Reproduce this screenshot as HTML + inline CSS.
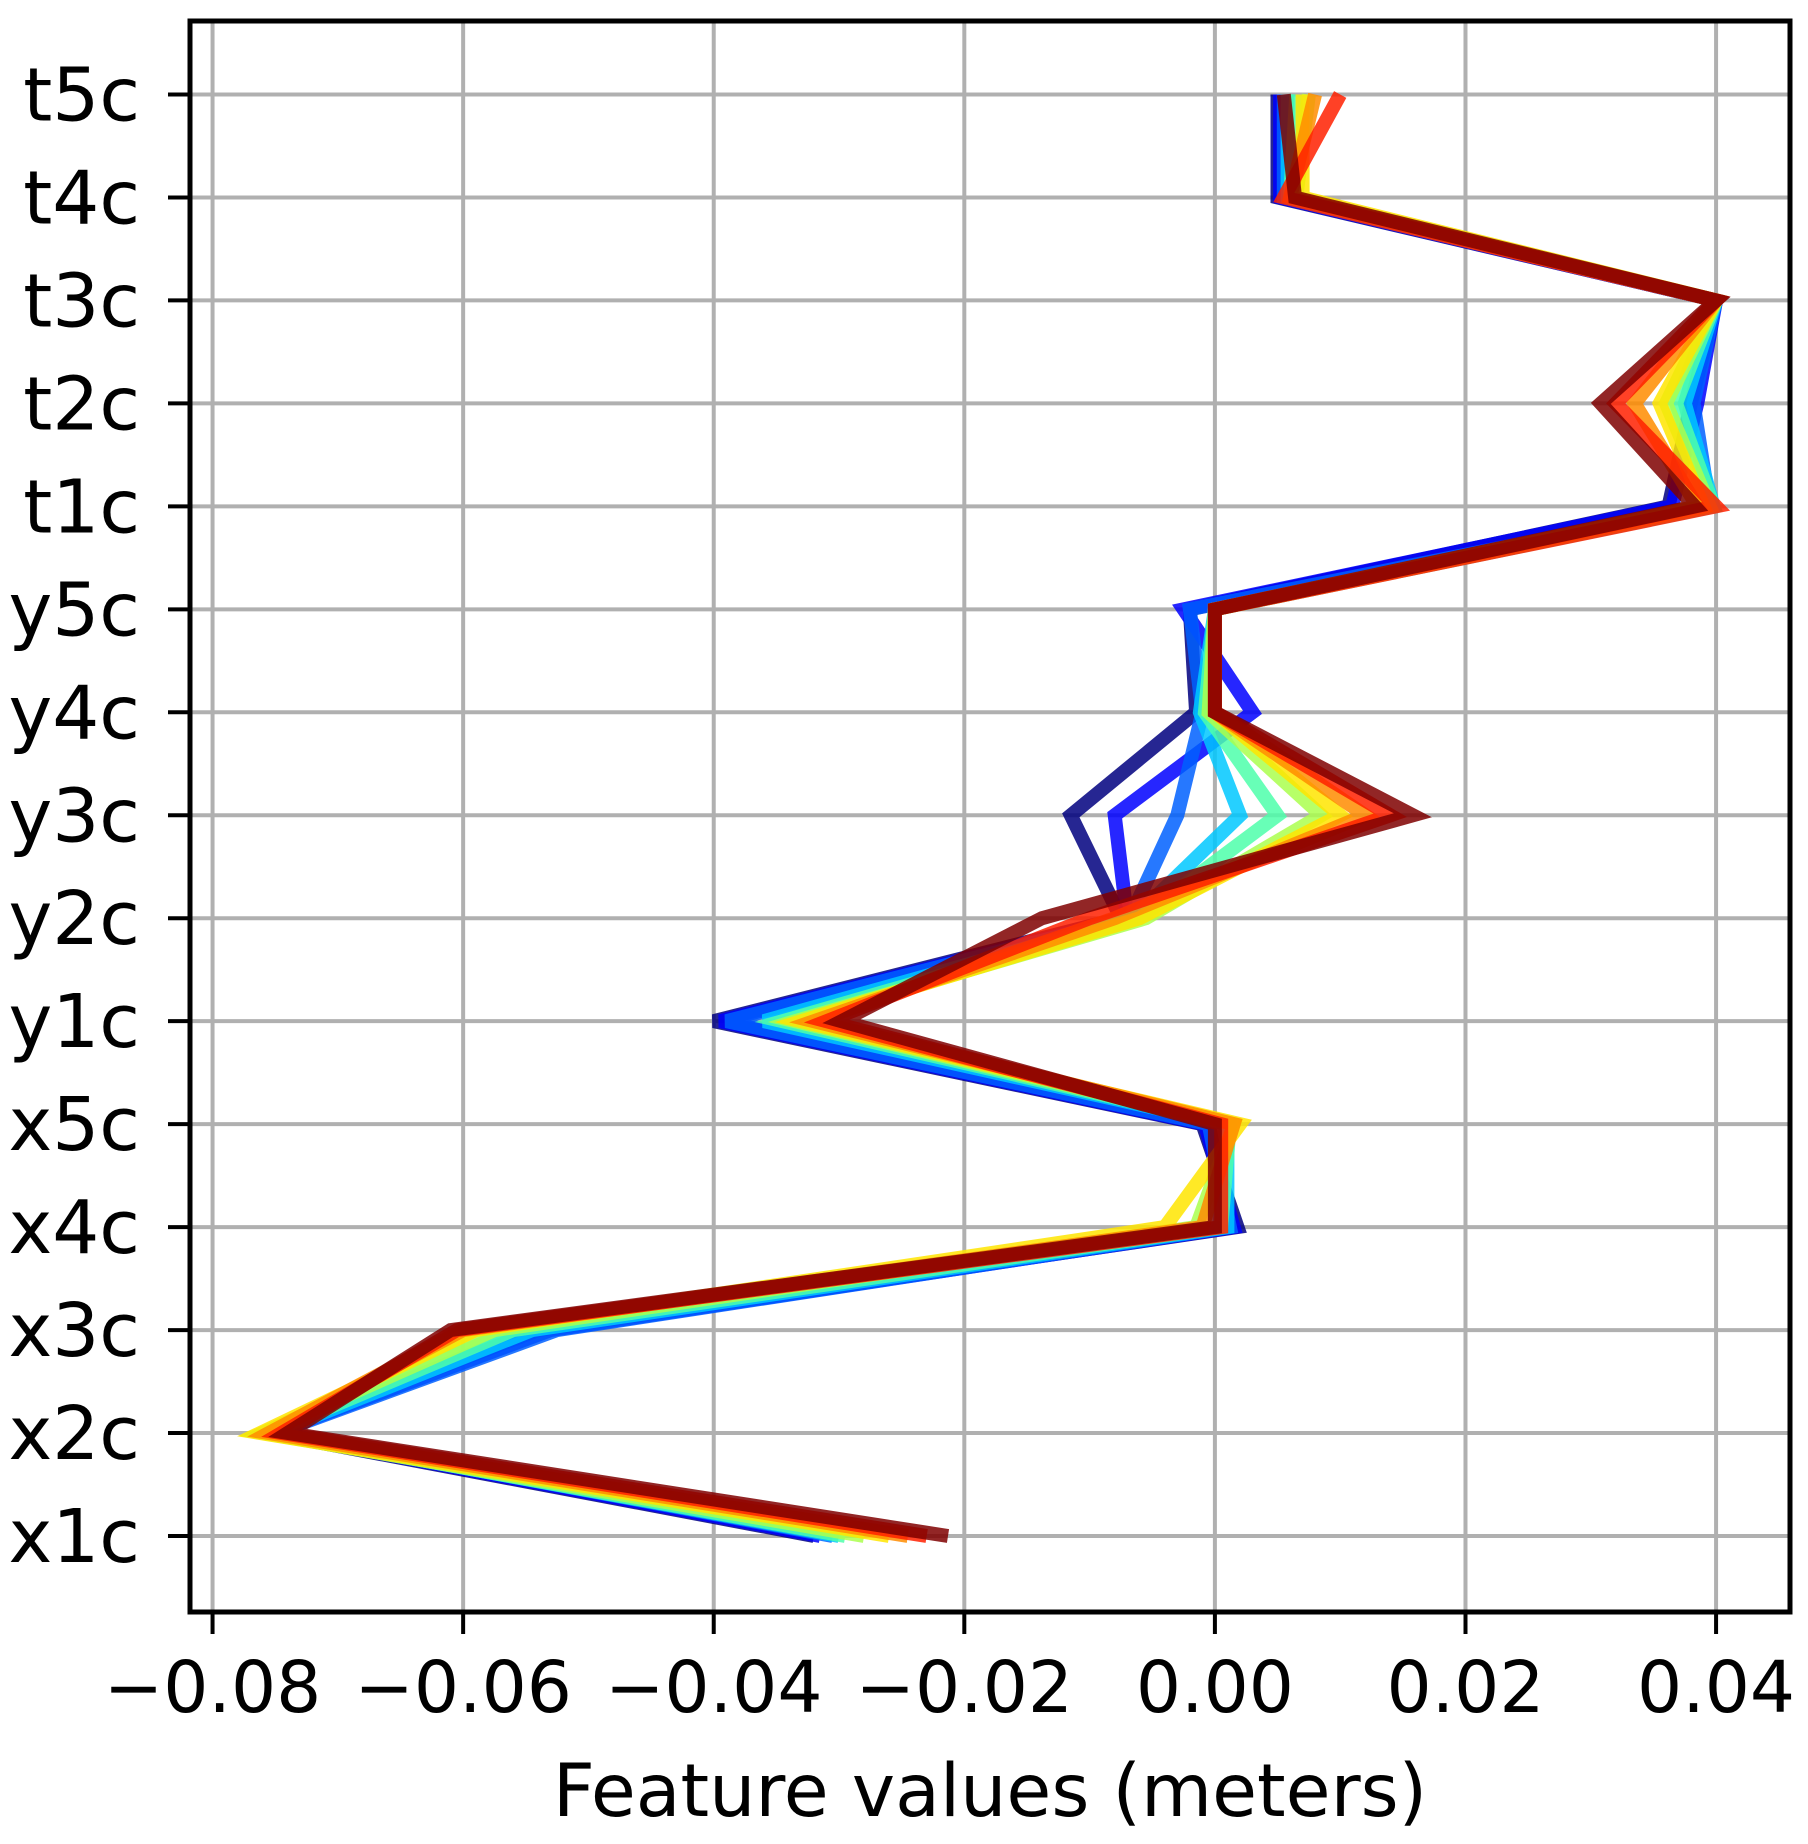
<!DOCTYPE html>
<html><head><meta charset="utf-8"><style>
html,body{margin:0;padding:0;background:#fff;}
svg{display:block;font-family:"DejaVu Sans","Liberation Sans",sans-serif;}
</style></head><body>
<svg id="chart" width="1808" height="1844" viewBox="0 0 1808 1844" xmlns="http://www.w3.org/2000/svg">
<g id="grid"></g>
<g id="series"></g>
<g id="axes"></g>
<text x="990" y="1816" font-size="73" text-anchor="middle">Feature values (meters)</text>
</svg>
<script>
const categories = ["x1c","x2c","x3c","x4c","x5c","y1c","y2c","y3c","y4c","y5c","t1c","t2c","t3c","t4c","t5c"];
const xTicks = [-0.08,-0.06,-0.04,-0.02,0.00,0.02,0.04];
const xTickLabels = ["\u22120.08","\u22120.06","\u22120.04","\u22120.02","0.00","0.02","0.04"];
const seriesColors = ["#00007f","#0000ff","#0060ff","#00c8ff","#4dffaa","#aaff4d","#ffe500","#ff8c00","#ff2000","#7f0000"];
const s0 = [-0.0320,-0.0755,-0.0540,0.0018,-0.0010,-0.0400,-0.0075,-0.0115,-0.0015,-0.0020,0.0362,0.0380,0.0400,0.0050,0.0050];
const s1 = [-0.0315,-0.0752,-0.0530,0.0015,-0.0008,-0.0395,-0.0070,-0.0080,0.0030,-0.0025,0.0365,0.0385,0.0400,0.0052,0.0052];
const s2 = [-0.0305,-0.0750,-0.0525,0.0012,-0.0005,-0.0390,-0.0068,-0.0030,-0.0010,-0.0020,0.0395,0.0382,0.0400,0.0055,0.0055];
const s3 = [-0.0300,-0.0752,-0.0545,0.0010,0.0010,-0.0360,-0.0065,0.0020,-0.0012,0.0000,0.0398,0.0375,0.0400,0.0058,0.0058];
const s4 = [-0.0295,-0.0755,-0.0560,0.0005,0.0012,-0.0345,-0.0060,0.0050,-0.0008,0.0000,0.0398,0.0368,0.0400,0.0060,0.0065];
const s5 = [-0.0280,-0.0760,-0.0575,-0.0015,0.0015,-0.0335,-0.0055,0.0085,-0.0005,0.0000,0.0395,0.0360,0.0400,0.0065,0.0075];
const s6 = [-0.0260,-0.0762,-0.0590,-0.0040,0.0020,-0.0330,-0.0060,0.0100,0.0000,0.0000,0.0390,0.0355,0.0400,0.0070,0.0070];
const s7 = [-0.0245,-0.0755,-0.0600,-0.0010,0.0015,-0.0320,-0.0080,0.0120,0.0000,0.0000,0.0385,0.0335,0.0400,0.0060,0.0080];
const s8 = [-0.0230,-0.0745,-0.0605,0.0005,0.0005,-0.0310,-0.0100,0.0140,0.0000,0.0000,0.0400,0.0320,0.0400,0.0055,0.0100];
const s9 = [-0.0213,-0.0740,-0.0610,0.0000,0.0000,-0.0298,-0.0138,0.0158,0.0000,0.0000,0.0383,0.0308,0.0400,0.0064,0.0055];
const allSeries = [s0,s1,s2,s3,s4,s5,s6,s7,s8,s9];

const NS="http://www.w3.org/2000/svg";
const L=190,R=1790,T=21,B=1612;
const xmin=-0.0818,xmax=0.0459;
function xs(v){return L+(v-xmin)/(xmax-xmin)*(R-L);}
function ys(i){return 1536-(i)*(1536-94.5)/(categories.length-1);}
function mk(tag,attrs,parent){const e=document.createElementNS(NS,tag);for(const k in attrs)e.setAttribute(k,attrs[k]);parent.appendChild(e);return e;}
const grid=document.getElementById('grid'),ser=document.getElementById('series'),axes=document.getElementById('axes');
xTicks.forEach((t,i)=>{
  const g=mk('line',{x1:xs(t),x2:xs(t),y1:T,y2:B,stroke:'#b0b0b0','stroke-width':4},grid);
  
  
  const tk=mk('line',{x1:xs(t),x2:xs(t),y1:B,y2:B+22,stroke:'#000','stroke-width':4},axes);
  
  
  const tx=mk('text',{x:xs(t),y:1712,'font-size':71,'text-anchor':'middle'},axes);
  tx.textContent=xTickLabels[i];
  
  
});
categories.forEach((c,i)=>{
  const g=mk('line',{x1:L,x2:R,y1:ys(i),y2:ys(i),stroke:'#b0b0b0','stroke-width':4},grid);
  
  
  const tk=mk('line',{x1:L-22,x2:L,y1:ys(i),y2:ys(i),stroke:'#000','stroke-width':4},axes);
  
  
  const tx=mk('text',{x:L-50,y:ys(i)+26,'font-size':74,'text-anchor':'end'},axes);
  tx.textContent=c;
  
  
});
allSeries.forEach((s,k)=>{
  const pts=s.map((v,i)=>xs(v).toFixed(1)+','+ys(i).toFixed(1)).join(' ');
  const p=mk('polyline',{points:pts,fill:'none',stroke:seriesColors[k],'stroke-width':14,'stroke-opacity':0.85,'stroke-linejoin':'miter'},ser);
  
  
});
const fr=mk('rect',{x:L,y:T,width:R-L,height:B-T,fill:'none',stroke:'#000','stroke-width':5},axes);


</script>
</body></html>
